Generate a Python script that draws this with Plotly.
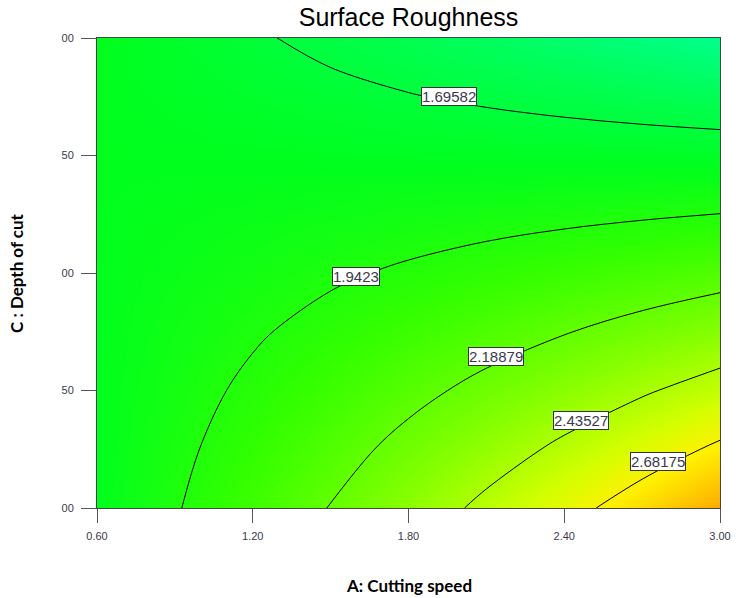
import plotly.graph_objects as go

# A: Cutting speed (x grid) and C: Depth of cut (y grid)
cutting_speed = [0.6, 0.9, 1.2, 1.5, 1.8, 2.1, 2.4, 2.7, 3.0]
depth_of_cut = [1.0, 1.25, 1.5, 1.75, 2.0, 2.25, 2.5, 2.75, 3.0]

# Surface roughness estimates (rows = depth of cut)
roughness = [
    [1.8039, 1.9307, 2.0612, 2.1953, 2.3333, 2.4750, 2.6205, 2.7697, 2.9226],
    [1.8039, 1.9086, 2.0157, 2.1255, 2.2378, 2.3527, 2.4701, 2.5902, 2.7127],
    [1.8039, 1.8865, 1.9707, 2.0566, 2.1440, 2.2331, 2.3237, 2.4159, 2.5099],
    [1.8039, 1.8646, 1.9262, 1.9887, 2.0521, 2.1162, 2.1813, 2.2473, 2.3141],
    [1.8039, 1.8429, 1.8821, 1.9218, 1.9618, 2.0022, 2.0429, 2.0840, 2.1255],
    [1.8039, 1.8211, 1.8385, 1.8559, 1.8734, 1.8909, 1.9086, 1.9262, 1.9440],
    [1.8039, 1.7996, 1.7953, 1.7910, 1.7867, 1.7824, 1.7781, 1.7738, 1.7695],
    [1.8039, 1.7782, 1.7525, 1.7271, 1.7018, 1.6767, 1.6518, 1.6269, 1.6023],
    [1.8039, 1.7568, 1.7103, 1.6642, 1.6187, 1.5738, 1.5294, 1.4855, 1.4421],
]

contour_levels = [1.69582, 1.9423, 2.18879, 2.43527, 2.68175]
level_labels = ["1.69582", "1.9423", "2.18879", "2.43527", "2.68175"]
# where each level's label box sits along its line
label_x = [1.956, 1.598, 2.137, 2.465, 2.761]
label_y = [2.753, 1.987, 1.643, 1.374, 1.196]

x_ticks = [0.6, 1.2, 1.8, 2.4, 3.0]
x_ticktext = ["0.60", "1.20", "1.80", "2.40", "3.00"]
y_ticks = [1.0, 1.5, 2.0, 2.5, 3.0]
y_ticktext = ["00", "50", "00", "50", "00"]

zmin, zmax = 1.44, 2.93
def n(z):
    return (z - zmin) / (zmax - zmin)

colorscale = [
    [0.0, "rgb(0,255,140)"],
    [n(1.62), "rgb(0,255,80)"],
    [n(1.80), "rgb(0,255,30)"],
    [n(2.02), "rgb(50,255,0)"],
    [n(2.30), "rgb(130,255,0)"],
    [n(2.55), "rgb(210,255,0)"],
    [n(2.70), "rgb(255,240,0)"],
    [1.0, "rgb(255,168,0)"],
]

fig = go.Figure()
fig.add_trace(go.Contour(
    x=cutting_speed, y=depth_of_cut, z=roughness,
    zmin=zmin, zmax=zmax, colorscale=colorscale, showscale=False,
    contours=dict(start=contour_levels[0], end=contour_levels[-1],
                  size=contour_levels[1] - contour_levels[0],
                  coloring="heatmap", showlabels=False),
    line=dict(color="black", width=1, smoothing=1.0),
    hoverinfo="skip",
))

for lx, ly, txt in zip(label_x, label_y, level_labels):
    fig.add_annotation(x=lx, y=ly, xref="x", yref="y", text=txt, showarrow=False,
                       font=dict(family="Liberation Sans", size=15, color="#3a3a4a"),
                       bgcolor="white", bordercolor="#333333", borderwidth=1, borderpad=0)

fig.add_annotation(text="A: Cutting speed", xref="paper", yref="paper", x=0.5, y=0,
                   yanchor="middle", yshift=-77, showarrow=False,
                   font=dict(family="Lato", size=17, color="black", weight="bold"))
fig.add_annotation(text="C : Depth of cut", xref="paper", yref="paper", x=0, y=0.5,
                   xanchor="center", xshift=-81, textangle=-90, showarrow=False,
                   font=dict(family="Lato", size=17, color="black", weight="bold"))

axis_font = dict(family="Liberation Sans", size=11, color="#3a3a4a")
fig.update_xaxes(range=[0.6, 3.0], tickvals=x_ticks, ticktext=x_ticktext,
                 ticks="outside", ticklen=14, tickcolor="#555555", tickwidth=1,
                 showline=True, linecolor="#444444", linewidth=1, mirror=True,
                 showgrid=False, zeroline=False, tickfont=axis_font,
                 ticklabelstandoff=4, automargin=False)
fig.update_yaxes(range=[1.0, 3.0], tickvals=y_ticks, ticktext=y_ticktext,
                 ticks="outside", ticklen=15, tickcolor="#555555", tickwidth=1,
                 showline=True, linecolor="#444444", linewidth=1, mirror=True,
                 showgrid=False, zeroline=False, tickfont=axis_font,
                 ticklabelstandoff=5, automargin=False)

fig.update_layout(
    width=736, height=598,
    margin=dict(l=97, r=16, t=38, b=90, autoexpand=False),
    paper_bgcolor="white", plot_bgcolor="white",
    title=dict(text="Surface Roughness", x=0.5, xref="paper", y=0.985, yref="container",
               yanchor="top", pad=dict(t=0, b=0),
               font=dict(family="Liberation Sans", size=25, color="black")),
    showlegend=False,
)

fig.write_html("out.html", config={"displayModeBar": False},
               post_script="document.body.style.margin='0';document.body.style.overflow='hidden';")
